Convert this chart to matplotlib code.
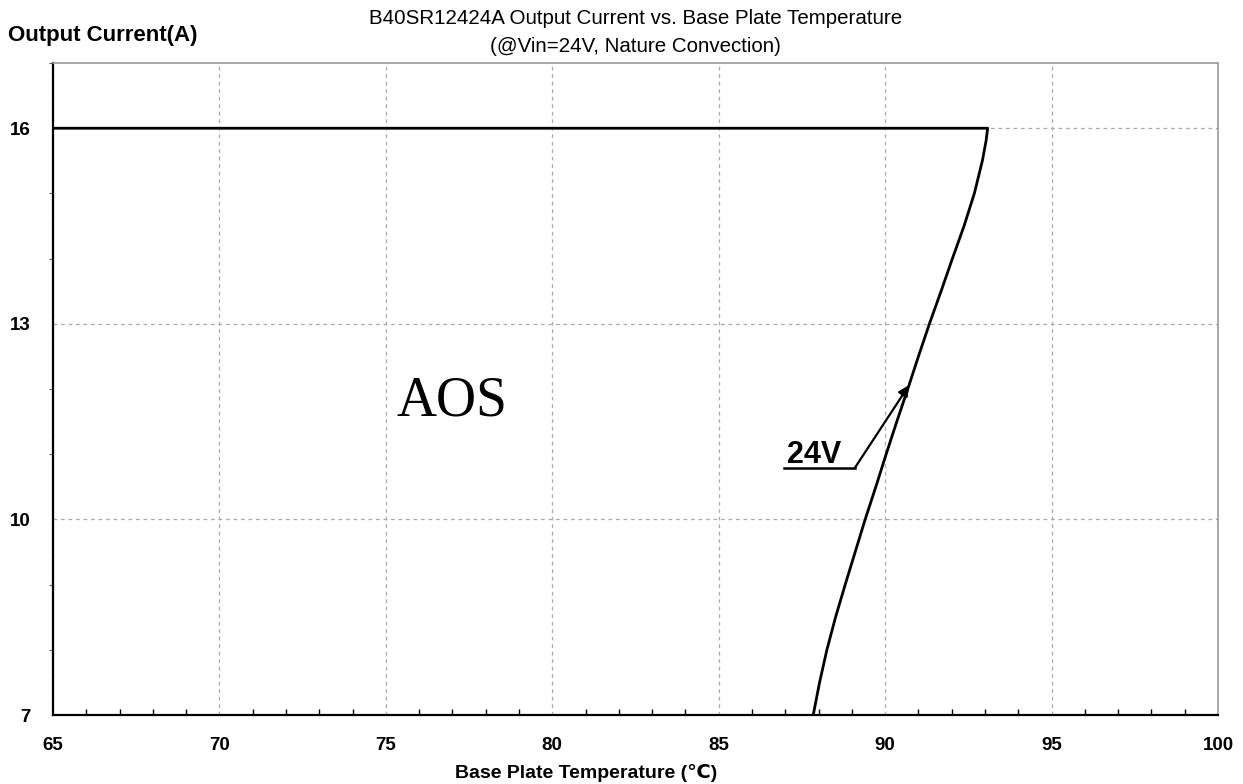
import numpy as np
import matplotlib
matplotlib.use("Agg")
from matplotlib import pyplot as plt
from matplotlib.ticker import MultipleLocator

plt.rcParams['font.family'] = ['Liberation Sans', 'DejaVu Sans']

# Derating curve (Vin=24V)
temp_c = [65.0, 93.08, 93.03, 92.92, 92.68, 92.37, 92.02, 91.68, 91.33,
          91.0, 90.68, 90.35, 90.03, 89.72, 89.40, 89.1, 88.8, 88.51,
          88.25, 88.03, 87.84]
current_a = [16.0, 16.0, 15.8, 15.5, 15.0, 14.5, 14.0, 13.5, 13.0,
             12.5, 12.0, 11.5, 11.0, 10.5, 10.0, 9.5, 9.0, 8.5,
             8.0, 7.5, 7.0]

x_ticks = [65, 70, 75, 80, 85, 90, 95, 100]
y_ticks = [7, 10, 13, 16]

# annotation for the 24V curve
label_text = "24V"
arrow_tip = (90.72, 12.06)
elbow = (89.09, 10.79)
shelf_left = 86.97

fig = plt.figure(figsize=(12.43, 7.84), dpi=100)
ax = fig.add_axes([0.0426, 0.088, 0.9373, 0.8316])

ax.plot(temp_c, current_a, color="black", linewidth=2.0, zorder=3,
        solid_joinstyle="round")

ax.set_xlim(65, 100)
ax.set_ylim(7, 17)
ax.set_xticks(x_ticks)
ax.set_yticks(y_ticks)
ax.xaxis.set_minor_locator(MultipleLocator(1))
ax.yaxis.set_minor_locator(MultipleLocator(1))
ax.grid(True, which="major", color="#aaaaaa", linestyle=(0, (3, 3)), linewidth=0.9)

ax.tick_params(axis="x", which="major", direction="in", length=0, pad=16,
               labelsize=13.5)
ax.tick_params(axis="x", which="minor", direction="in", length=4, width=1)
ax.tick_params(axis="y", which="major", length=0, pad=16, labelsize=13.5)
ax.tick_params(axis="y", which="minor", direction="out", length=3, width=0.8,
               color="#555555")
for lab in ax.get_xticklabels() + ax.get_yticklabels():
    lab.set_fontweight("bold")

ax.spines["left"].set_linewidth(1.6)
ax.spines["bottom"].set_linewidth(1.6)
for s in ("top", "right"):
    ax.spines[s].set_color("#999999")
    ax.spines[s].set_linewidth(1.2)

# 24V label with leader line and arrow
ax.plot([shelf_left, elbow[0]], [elbow[1], elbow[1]], color="black", linewidth=1.8)
ax.annotate("", xy=arrow_tip, xytext=elbow,
            arrowprops=dict(arrowstyle="-|>", color="black", lw=1.6,
                            mutation_scale=16, shrinkA=0, shrinkB=0))
ax.text(87.06, 10.86, label_text, fontsize=22, fontweight="bold",
        ha="left", va="baseline")

ax.text(75.31, 11.6, "AOS", fontsize=40, family="Liberation Serif",
        ha="left", va="baseline")

fig.text(0.511, 1 - 18 / 784, "B40SR12424A Output Current vs. Base Plate Temperature",
         ha="center", va="center", fontsize=14.8)
fig.text(0.511, 1 - 46 / 784, "(@Vin=24V, Nature Convection)",
         ha="center", va="center", fontsize=14.8)
fig.text(8 / 1243, 1 - 35 / 784, "Output Current(A)", ha="left", va="center",
         fontsize=16, fontweight="bold")
fig.text(586 / 1243, 1 - 773 / 784, "Base Plate Temperature (℃)", ha="center",
         va="center", fontsize=14, fontweight="bold")

fig.savefig("out.png", dpi=100)
